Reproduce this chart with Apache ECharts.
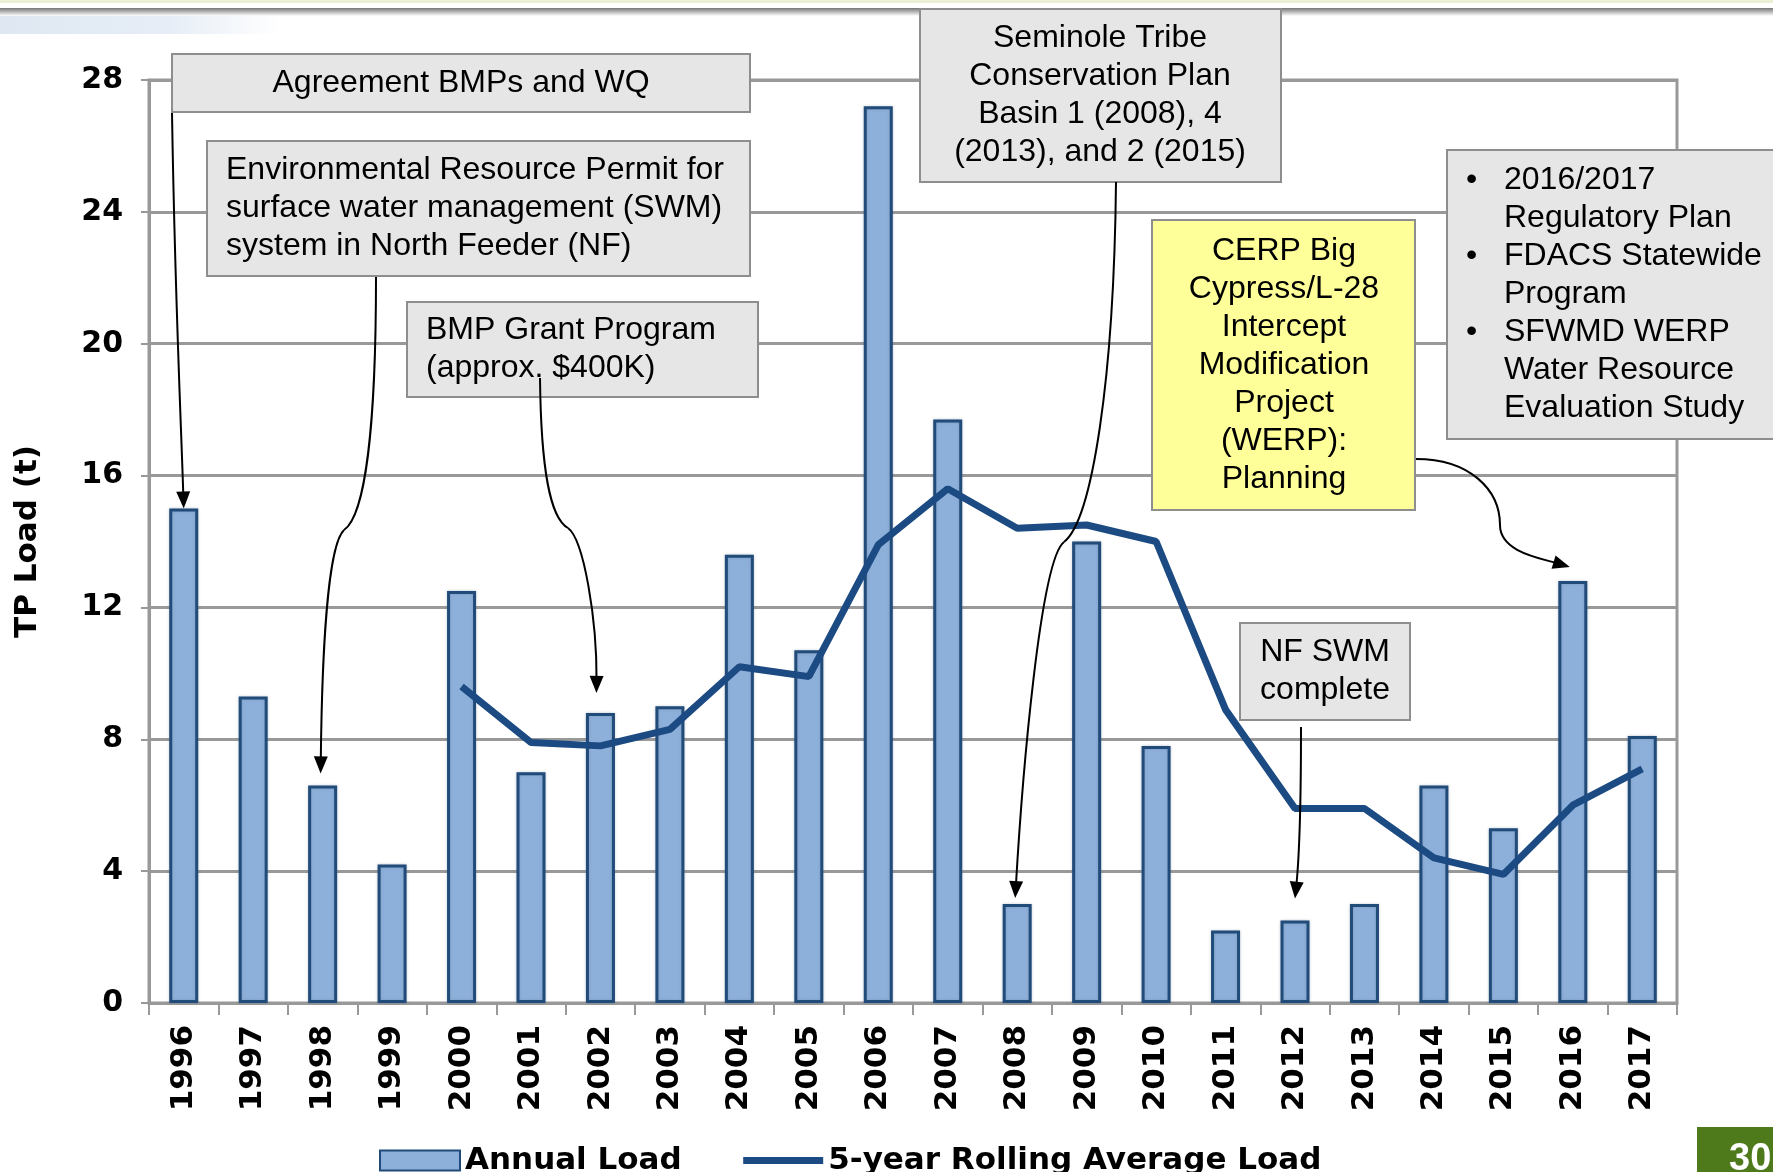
<!DOCTYPE html>
<html>
<head>
<meta charset="utf-8">
<script src="https://cdn.jsdelivr.net/npm/echarts@6/dist/echarts.min.js"></script>
<style>
  html, body { margin: 0; padding: 0; background: #fff; }
  #chart { width: 1773px; height: 1172px; }
</style>
</head>
<body>
<div id="chart"></div>
<script>
const years = ['1996', '1997', '1998', '1999', '2000', '2001', '2002', '2003', '2004', '2005', '2006',
               '2007', '2008', '2009', '2010', '2011', '2012', '2013', '2014', '2015', '2016', '2017'];
const annualLoad = [15.0, 9.3, 6.6, 4.2, 12.5, 7.0, 8.8, 9.0, 13.6, 10.7, 27.2,
                    17.7, 3.0, 14.0, 7.8, 2.2, 2.5, 3.0, 6.6, 5.3, 12.8, 8.1];
const rollingAvg = [null, null, null, null, 9.6, 7.9, 7.8, 8.3, 10.2, 9.9, 13.9,
                    15.6, 14.4, 14.5, 14.0, 8.9, 5.9, 5.9, 4.4, 3.9, 6.0, 7.1];
const yMin = 0, yMax = 28, yStep = 4;

const axisFont = 'DejaVu Sans';
const noteFont = '32px "Liberation Sans", Arial, sans-serif';
const gridGray = '#999999';
const lineBlue = '#1C4A82';

let myChart = echarts.init(document.getElementById('chart'));
myChart.setOption({
    backgroundColor: '#FFFFFF',
    animation: false,
    grid: {
        left: 149, right: 96, top: 80, bottom: 169,
        show: true, borderColor: gridGray, borderWidth: 3
    },
    legend: {
        left: 374, top: 1140,
        itemWidth: 80, itemHeight: 20, itemGap: 58,
        textStyle: { fontFamily: axisFont, fontWeight: 'bold', fontSize: 31, color: '#000' },
        data: [
            { name: 'Annual Load', icon: 'rect' },
            { name: '5-year Rolling Average Load',
              lineStyle: { color: lineBlue, width: 7 },
              itemStyle: { color: 'rgba(0,0,0,0)', borderWidth: 0, opacity: 0 } }
        ]
    },
    xAxis: {
        type: 'category',
        data: years,
        axisLine: { lineStyle: { color: gridGray, width: 3 } },
        axisTick: { show: true, length: 12, lineStyle: { color: gridGray, width: 2 } },
        axisLabel: {
            interval: 0, rotate: 90, margin: 22,
            fontFamily: axisFont, fontWeight: 'bold', fontSize: 31, color: '#000'
        }
    },
    yAxis: {
        type: 'value',
        min: yMin, max: yMax, interval: yStep,
        name: 'TP Load (t)',
        nameLocation: 'middle',
        nameGap: 106,
        nameTextStyle: { fontFamily: axisFont, fontWeight: 'bold', fontSize: 31, color: '#000' },
        axisLine: { show: true, lineStyle: { color: gridGray, width: 3 } },
        axisTick: { show: true, length: 8, lineStyle: { color: gridGray, width: 2 } },
        axisLabel: { margin: 26, fontFamily: axisFont, fontWeight: 'bold', fontSize: 30, color: '#000' },
        splitLine: { lineStyle: { color: gridGray, width: 3 } }
    },
    series: [
        {
            name: 'Annual Load',
            type: 'bar',
            barWidth: 29,
            itemStyle: {
                color: '#8DB0DA', borderColor: '#214B78', borderWidth: 3,
                shadowColor: 'rgba(90,110,140,0.35)', shadowBlur: 3
            },
            data: annualLoad
        },
        {
            name: '5-year Rolling Average Load',
            type: 'line',
            symbol: 'none',
            z: 3,
            lineStyle: { color: lineBlue, width: 7 },
            itemStyle: { color: lineBlue },
            data: rollingAvg
        }
    ]
});

// annotation boxes and arrows
function barTop(year, dx, dy) {
    let i = years.indexOf(year);
    let p = myChart.convertToPixel({ seriesIndex: 0 }, [i, annualLoad[i]]);
    return [p[0] + dx, p[1] + dy];
}

function box(x, y, w, h, fill, lines, align, tx) {
    return {
        type: 'group', z: 50,
        children: [
            { type: 'rect', shape: { x: x, y: y, width: w, height: h },
              style: { fill: fill, stroke: '#8e8e8e', lineWidth: 2 } },
            { type: 'text', x: tx, y: y + h / 2,
              style: { text: lines.join('\n'), font: noteFont, fill: '#000', lineHeight: 38,
                       align: align, verticalAlign: 'middle', textAlign: align, textVerticalAlign: 'middle' } }
        ]
    };
}

function curve(a, c1, c2, b) {
    return { type: 'bezierCurve', z: 60,
             shape: { x1: a[0], y1: a[1], cpx1: c1[0], cpy1: c1[1], cpx2: c2[0], cpy2: c2[1], x2: b[0], y2: b[1] },
             style: { stroke: '#000', lineWidth: 2, fill: null } };
}

function head(tip, from) {
    let dx = tip[0] - from[0], dy = tip[1] - from[1];
    let len = Math.sqrt(dx * dx + dy * dy);
    dx /= len; dy /= len;
    let L = 17, W = 7;
    let bx = tip[0] - dx * L, by = tip[1] - dy * L;
    return { type: 'polygon', z: 61,
             shape: { points: [tip, [bx - dy * W, by + dx * W], [bx + dy * W, by - dx * W]] },
             style: { fill: '#000' } };
}

function arrow(points, tip) {
    // points: start, then per segment [c1, c2, end]; last segment ends at tip
    let els = [];
    let cur = points[0];
    for (let k = 1; k < points.length; k++) {
        let seg = points[k];
        if (k === points.length - 1) {
            // stop the line a little short of the tip so the head covers it
            let c2 = seg[1];
            let dx = tip[0] - c2[0], dy = tip[1] - c2[1];
            let l = Math.sqrt(dx * dx + dy * dy);
            let lineEnd = [tip[0] - dx / l * 12, tip[1] - dy / l * 12];
            els.push(curve(cur, seg[0], seg[1], lineEnd));
            els.push(head(tip, seg[1]));
        } else {
            els.push(curve(cur, seg[0], seg[1], seg[2]));
            cur = seg[2];
        }
    }
    return els;
}

let t1996 = barTop('1996', 0, 0);
let t1998 = barTop('1998', -2, -12);
let t2002 = barTop('2002', -4, -20);
let t2008 = barTop('2008', -2, -6);
let t2012 = barTop('2012', 0, -22);
let t2016 = barTop('2016', -3, -14);

let graphics = [
    // slide header edge
    { type: 'rect', shape: { x: 0, y: 0, width: 1773, height: 3 }, style: { fill: '#e9f0d6' } },
    { type: 'rect', shape: { x: 0, y: 8, width: 1773, height: 8 },
      style: { fill: new echarts.graphic.LinearGradient(0, 0, 0, 1, [
          { offset: 0, color: '#767676' }, { offset: 1, color: '#ffffff' }]) } },
    { type: 'rect', shape: { x: 0, y: 16, width: 280, height: 18 },
      style: { fill: new echarts.graphic.LinearGradient(0, 0, 1, 0, [
          { offset: 0, color: '#dfe8f2' }, { offset: 0.6, color: '#e6edf6' }, { offset: 1, color: '#ffffff' }]) } },
    // page number
    { type: 'rect', shape: { x: 1697, y: 1127, width: 76, height: 45 }, style: { fill: '#4E7A1C' } },
    { type: 'text', x: 1729, y: 1141,
      style: { text: '30', font: 'bold 38px "Liberation Sans", Arial', fill: '#fff', verticalAlign: 'top', textVerticalAlign: 'top' } },

    box(172, 54, 578, 58, '#E6E6E6', ['Agreement BMPs and WQ'], 'center', 461),
    box(207, 141, 543, 135, '#E6E6E6',
        ['Environmental Resource Permit for', 'surface water management (SWM)', 'system in North Feeder (NF)'], 'left', 226),
    box(407, 302, 351, 95, '#E6E6E6', ['BMP Grant Program', '(approx. $400K)'], 'left', 426),
    box(920, 9, 361, 173, '#E6E6E6',
        ['Seminole Tribe', 'Conservation Plan', 'Basin 1 (2008), 4', '(2013), and 2 (2015)'], 'center', 1100),
    box(1152, 220, 263, 290, '#FFFF99',
        ['CERP Big', 'Cypress/L-28', 'Intercept', 'Modification', 'Project', '(WERP):', 'Planning'], 'center', 1284),
    box(1447, 150, 340, 289, '#E6E6E6',
        ['2016/2017', 'Regulatory Plan', 'FDACS Statewide', 'Program', 'SFWMD WERP', 'Water Resource', 'Evaluation Study'], 'left', 1504),
    { type: 'text', z: 55, x: 1466, y: 294.5,
      style: { text: '•\n \n•\n \n•\n \n ', font: noteFont, fill: '#000', lineHeight: 38,
               align: 'left', verticalAlign: 'middle', textAlign: 'left', textVerticalAlign: 'middle' } },
    box(1240, 623, 170, 97, '#E6E6E6', ['NF SWM', 'complete'], 'center', 1325)
];

graphics = graphics.concat(
    arrow([[172, 113], [[175, 300], [181, 420], null]], t1996),
    arrow([[376, 277], [[376, 420], [366, 515], [344, 530]], [[328, 545], [322, 650], null]], t1998),
    arrow([[540, 378], [[541, 470], [550, 518], [568, 528]], [[584, 540], [597, 620], null]], t2002),
    arrow([[1116, 182], [[1114, 380], [1092, 520], [1064, 542]], [[1040, 560], [1022, 780], null]], t2008),
    arrow([[1416, 459], [[1470, 459], [1500, 490], [1500, 525]], [[1500, 552], [1540, 558], null]], t2016),
    arrow([[1301, 727], [[1301, 800], [1300, 850], null]], t2012)
);

myChart.setOption({ graphic: graphics });
</script>
</body>
</html>
